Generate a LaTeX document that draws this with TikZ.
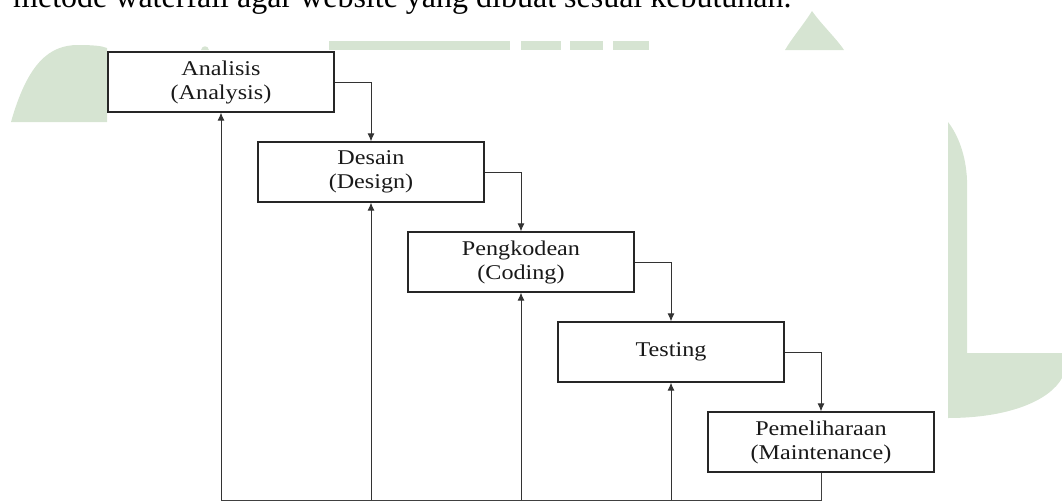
\documentclass[tikz,border=0pt]{standalone}
\usepackage{fontspec}
\setmainfont{Liberation Serif}
\newfontfamily\boxfont[FakeStretch=1.15]{Liberation Serif}
\usetikzlibrary{arrows.meta}
\definecolor{logogreen}{RGB}{214,228,210}

\begin{document}
\begin{tikzpicture}[
    x=1pt, y=-1pt,
    box/.style={rectangle, draw=black!85, line width=1.2pt, fill=white, minimum width=226pt, minimum height=60pt, inner sep=0pt, align=center, text=black!90, font=\boxfont\fontsize{21}{24}\selectfont},
    arrow/.style={-{Latex[length=8pt,width=7pt]}, black!80, line width=1pt},
    link/.style={black!75, line width=1pt},
    logo/.style={fill=logogreen, draw=none}
]

% Page
\useasboundingbox (0,0) rectangle (1062,501);
\clip (0,0) rectangle (1062,501);
\node[anchor=base west, inner sep=0pt, font=\fontsize{32}{38}\selectfont] (sentence) at (13,7.5) {metode waterfall agar website yang dibuat sesuai kebutuhan.};

% Watermark
\fill[logo] (11,122) .. controls (28,62) and (50,45) .. (78,45) .. controls (94,45) and (102,46) .. (107,48) -- (107,122) -- cycle;
\fill[logo] (201,50) .. controls (202,45) and (208,45) .. (209,50) -- cycle;
\fill[logo] (329,41) rectangle (510,50);
\fill[logo] (521,41) rectangle (561,50);
\fill[logo] (570,41) rectangle (603,50);
\fill[logo] (613,41) rectangle (649,50);
\fill[logo] (812,11) .. controls (804,24) and (792,38) .. (785,50) -- (844,50) .. controls (836,38) and (821,24) .. (812,11) -- cycle;
\fill[logo] (948,122) .. controls (958,135) and (966,155) .. (967,180) -- (967,353) -- (1062,353) -- (1062,378) .. controls (1050,400) and (1010,418) .. (948,418) -- cycle;

% Phases
\node[box] (analysis) at (221,82) {Analisis\\(Analysis)};
\node[box] (design) at (371,172) {Desain\\(Design)};
\node[box] (coding) at (521,262) {Pengkodean\\(Coding)};
\node[box] (testing) at (671,352) {Testing};
\node[box] (maintenance) at (821,442) {Pemeliharaan\\(Maintenance)};

% Flow down
\draw[arrow] (analysis.east) -| (design.north);
\draw[arrow] (design.east) -| (coding.north);
\draw[arrow] (coding.east) -| (testing.north);
\draw[arrow] (testing.east) -| (maintenance.north);

% Feedback
\coordinate (base) at (0,500);
\draw[link] (maintenance.south) -- (maintenance.south |- base) -- (analysis.south |- base);
\foreach \phase in {analysis, design, coding, testing}
  \draw[arrow] (\phase.south |- base) -- (\phase.south);

\end{tikzpicture}
\end{document}
